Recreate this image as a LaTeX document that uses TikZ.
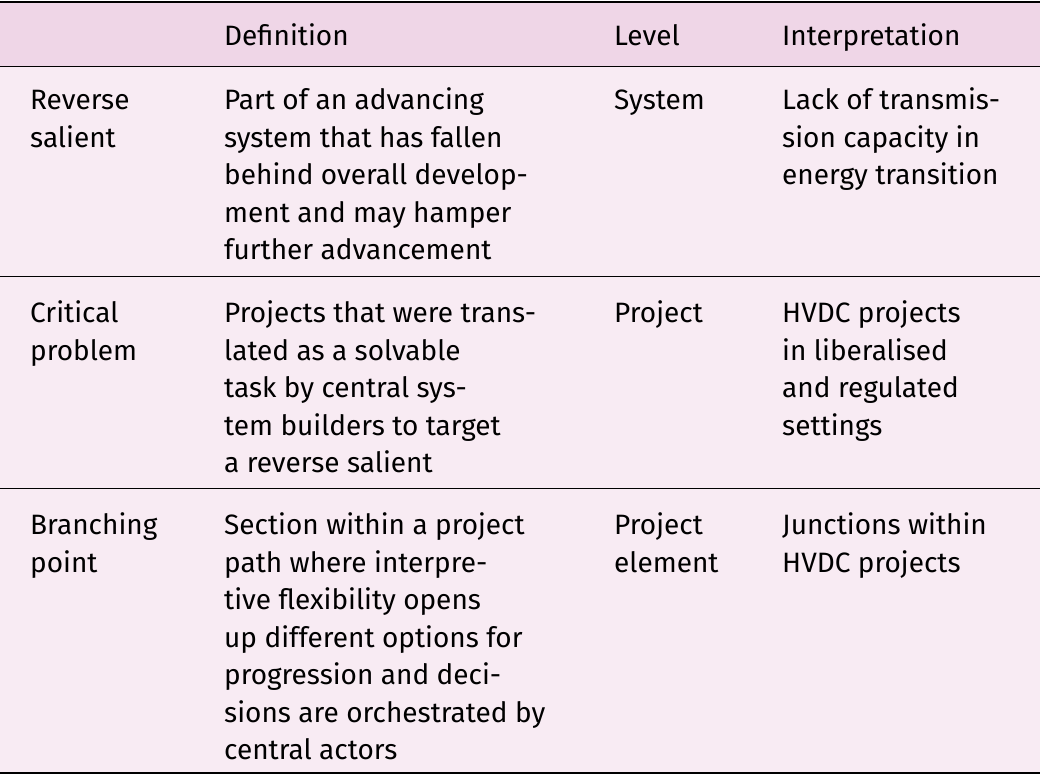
\documentclass[tikz,border=0pt]{standalone}
\usepackage{fontspec}
\setmainfont{Fira Sans}
\definecolor{bgp}{HTML}{F8EBF3}
\definecolor{hdp}{HTML}{EFD6E7}
\newcommand{\cell}[4]{% x, first baseline(px from top), name, lines
  \foreach \t [count=\i] in {#4} {
    \node[txt] (#3-\i) at (#1pt, {775pt-#2pt-(\i-1)*37.5pt}) {\t};
  }}
\begin{document}
\begin{tikzpicture}[x=1pt,y=1pt,txt/.style={anchor=base west,inner sep=0pt,font=\fontsize{28}{34}\selectfont}]
\useasboundingbox (0,0) rectangle (1040,775);
\fill[bgp] (0,2) rectangle (1040,773);
\fill[hdp] (0,708) rectangle (1040,773);
\draw[line width=1.5pt] (0,773) -- (1040,773);
\draw[line width=1pt] (0,708) -- (1040,708);
\draw[line width=1pt] (0,498) -- (1040,498);
\draw[line width=1pt] (0,286) -- (1040,286);
\draw[line width=1.5pt] (0,2) -- (1040,2);
\cell{224}{46}{h1}{Definition}
\cell{614}{46}{h2}{Level}
\cell{782}{46}{h3}{Interpretation}
\cell{30}{110}{a1}{Reverse,salient}
\cell{224}{110}{a2}{Part of an advancing,system that has fallen,behind overall develop-,ment and may hamper,further advancement}
\cell{614}{110}{a3}{System}
\cell{782}{110}{a4}{Lack of transmis-,sion capacity in,energy transition}
\cell{30}{323}{b1}{Critical,problem}
\cell{224}{323}{b2}{Projects that were trans-,lated as a solvable,task by central sys-,tem builders to target,a reverse salient}
\cell{614}{323}{b3}{Project}
\cell{782}{323}{b4}{HVDC projects,in liberalised,and regulated,settings}
\cell{30}{535}{c1}{Branching,point}
\cell{224}{535}{c2}{Section within a project,path where interpre-,tive flexibility opens,up different options for,progression and deci-,sions are orchestrated by,central actors}
\cell{614}{535}{c3}{Project,element}
\cell{782}{535}{c4}{Junctions within,HVDC projects}
\end{tikzpicture}
\end{document}
